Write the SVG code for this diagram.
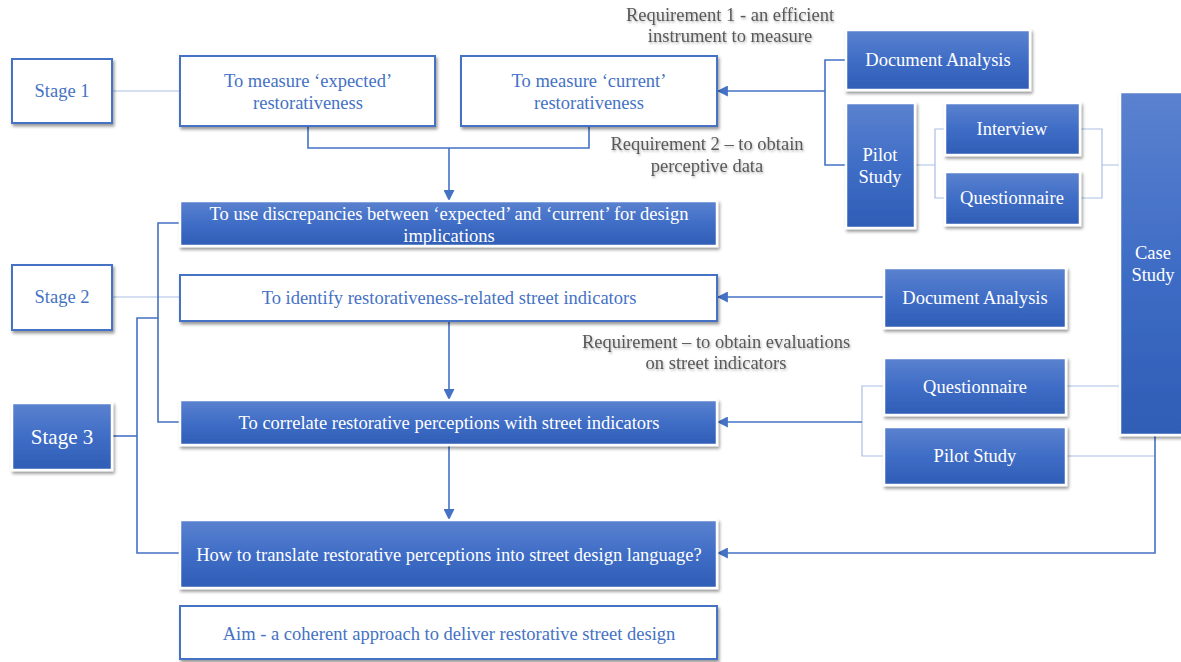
<svg xmlns="http://www.w3.org/2000/svg" width="1181" height="662" viewBox="0 0 1181 662">
  <defs>
    <linearGradient id="blueFill" x1="0" y1="0" x2="0" y2="1">
      <stop offset="0" stop-color="#5b82cf"/>
      <stop offset="0.5" stop-color="#3f6dc6"/>
      <stop offset="1" stop-color="#2f5db5"/>
    </linearGradient>
    <filter id="shadow" x="-10%" y="-10%" width="130%" height="140%">
      <feDropShadow dx="1.5" dy="2.5" stdDeviation="1.5" flood-color="#000" flood-opacity="0.4"/>
    </filter>
    <filter id="textShadow" x="-5%" y="-20%" width="110%" height="150%">
      <feDropShadow dx="1" dy="1.5" stdDeviation="0.8" flood-color="#000" flood-opacity="0.3"/>
    </filter>
    <marker id="arrow" viewBox="0 0 10 10" refX="9" refY="5" markerWidth="11" markerHeight="11" markerUnits="userSpaceOnUse" orient="auto">
      <path d="M0,0 L10,5 L0,10 Z" fill="#4472c4"/>
    </marker>
  </defs>
  <style>
    .boxW { fill: #ffffff; stroke: #4472c4; stroke-width: 2; filter: url(#shadow); }
    .boxB { fill: url(#blueFill); stroke: #ffffff; stroke-width: 2.5; filter: url(#shadow); }
    .tW { font-family: "Liberation Serif", "DejaVu Serif", serif; font-size: 18.5px; fill: #4472c4; text-anchor: middle; }
    .tB { font-family: "Liberation Serif", "DejaVu Serif", serif; font-size: 18.5px; fill: #ffffff; text-anchor: middle; }
    .lbl { font-family: "Liberation Serif", "DejaVu Serif", serif; font-size: 18.5px; fill: #595959; text-anchor: middle; filter: url(#textShadow); }
    .ln { fill: none; stroke: #4472c4; stroke-width: 1.6; }
    .lnThin { fill: none; stroke: #a9bfe6; stroke-width: 1.2; }
  </style>

  <rect width="1181" height="662" fill="#ffffff"/>

  <!-- connectors -->
  <g id="connectors">
    <!-- stage links -->
    <path class="lnThin" d="M112,91 H180"/>
    <path class="lnThin" d="M112,297 H180"/>
    <!-- stage 1 boxes merge into discrepancy box -->
    <path class="ln" d="M308,126 V148 H589 V126"/>
    <path class="ln" d="M449,148 V200" marker-end="url(#arrow)"/>
    <!-- stage 2 bracket -->
    <path class="ln" d="M180,223 H158 V422 H180"/>
    <!-- stage 3 bracket -->
    <path class="ln" d="M158,318 H137 V553 H180"/>
    <path class="ln" d="M112,436 H137"/>
    <!-- main flow -->
    <path class="ln" d="M449,321 V399" marker-end="url(#arrow)"/>
    <path class="ln" d="M449,445 V519" marker-end="url(#arrow)"/>
    <!-- top right methods into 'current' -->
    <path class="ln" d="M846,60 H825 V165 H846"/>
    <path class="ln" d="M825,91 H718" marker-end="url(#arrow)"/>
    <path class="lnThin" d="M915,165 H935 M945,129 H935 V198 H945"/>
    <path class="lnThin" d="M1080,129 H1102 V198 H1080 M1102,165 H1120"/>
    <!-- document analysis into indicators -->
    <path class="ln" d="M884,297 H718" marker-end="url(#arrow)"/>
    <!-- questionnaire / pilot into correlation -->
    <path class="lnThin" d="M884,386 H862 V456 H884"/>
    <path class="ln" d="M862,422 H718" marker-end="url(#arrow)"/>
    <path class="lnThin" d="M1066,386 H1120"/>
    <path class="lnThin" d="M1066,456 H1155"/>
    <!-- case study into translation -->
    <path class="ln" d="M1155,435 V553 H718" marker-end="url(#arrow)"/>
  </g>

  <!-- stages -->
  <g id="stage1">
    <rect class="boxW" x="12" y="59" width="100" height="64"/>
    <text class="tW" x="62" y="97">Stage 1</text>
  </g>
  <g id="stage2">
    <rect class="boxW" x="12" y="265" width="100" height="65"/>
    <text class="tW" x="62" y="303">Stage 2</text>
  </g>
  <g id="stage3">
    <rect class="boxB" x="12" y="403" width="100" height="67"/>
    <text class="tB" x="62" y="444" style="font-size:21px">Stage 3</text>
  </g>

  <!-- objectives -->
  <g id="expected">
    <rect class="boxW" x="180" y="56" width="255" height="70"/>
    <text class="tW" x="308" y="87">To measure ‘expected’</text>
    <text class="tW" x="308" y="109">restorativeness</text>
  </g>
  <g id="current">
    <rect class="boxW" x="461" y="56" width="256" height="70"/>
    <text class="tW" x="589" y="87">To measure ‘current’</text>
    <text class="tW" x="589" y="109">restorativeness</text>
  </g>
  <g id="discrepancies">
    <rect class="boxB" x="180" y="201" width="537" height="45"/>
    <text class="tB" x="449" y="220">To use discrepancies between ‘expected’ and ‘current’ for design</text>
    <text class="tB" x="449" y="242">implications</text>
  </g>
  <g id="identify">
    <rect class="boxW" x="180" y="275" width="537" height="46"/>
    <text class="tW" x="449" y="304">To identify restorativeness-related street indicators</text>
  </g>
  <g id="correlate">
    <rect class="boxB" x="180" y="400" width="537" height="45"/>
    <text class="tB" x="449" y="429">To correlate restorative perceptions with street indicators</text>
  </g>
  <g id="translate">
    <rect class="boxB" x="180" y="520" width="537" height="68"/>
    <text class="tB" x="449" y="561">How to translate restorative perceptions into street design language?</text>
  </g>
  <g id="aim">
    <rect class="boxW" x="180" y="606" width="537" height="53"/>
    <text class="tW" x="449" y="640">Aim - a coherent approach to deliver restorative street design</text>
  </g>

  <!-- requirement labels -->
  <g id="req1">
    <text class="lbl" x="730" y="21">Requirement 1 - an efficient</text>
    <text class="lbl" x="730" y="42">instrument to measure</text>
  </g>
  <g id="req2">
    <text class="lbl" x="707" y="150">Requirement 2 – to obtain</text>
    <text class="lbl" x="707" y="172">perceptive data</text>
  </g>
  <g id="req3">
    <text class="lbl" x="716" y="348">Requirement – to obtain evaluations</text>
    <text class="lbl" x="716" y="369">on street indicators</text>
  </g>

  <!-- methods -->
  <g id="docAnalysis1">
    <rect class="boxB" x="846" y="30" width="184" height="60"/>
    <text class="tB" x="938" y="66">Document Analysis</text>
  </g>
  <g id="pilotStudy1">
    <rect class="boxB" x="846" y="103" width="69" height="125"/>
    <text class="tB" x="880" y="161">Pilot</text>
    <text class="tB" x="880" y="183">Study</text>
  </g>
  <g id="interview">
    <rect class="boxB" x="945" y="103" width="135" height="52"/>
    <text class="tB" x="1012" y="135">Interview</text>
  </g>
  <g id="questionnaire1">
    <rect class="boxB" x="945" y="172" width="135" height="53"/>
    <text class="tB" x="1012" y="204">Questionnaire</text>
  </g>
  <g id="caseStudy">
    <rect class="boxB" x="1120" y="92" width="70" height="343"/>
    <text class="tB" x="1153" y="259">Case</text>
    <text class="tB" x="1153" y="281">Study</text>
  </g>
  <g id="docAnalysis2">
    <rect class="boxB" x="884" y="268" width="182" height="60"/>
    <text class="tB" x="975" y="304">Document Analysis</text>
  </g>
  <g id="questionnaire2">
    <rect class="boxB" x="884" y="358" width="182" height="57"/>
    <text class="tB" x="975" y="393">Questionnaire</text>
  </g>
  <g id="pilotStudy2">
    <rect class="boxB" x="884" y="427" width="182" height="58"/>
    <text class="tB" x="975" y="462">Pilot Study</text>
  </g>
</svg>
